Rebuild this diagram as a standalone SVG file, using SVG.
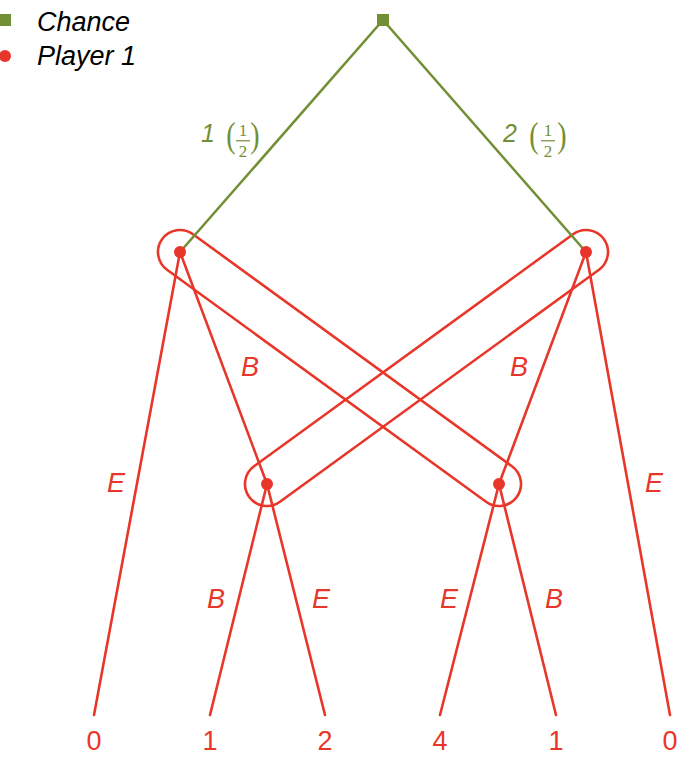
<svg xmlns="http://www.w3.org/2000/svg" width="690" height="771" viewBox="0 0 690 771">
<style>
.red{stroke:#e8372a;stroke-width:2.6;fill:none;stroke-linecap:round}
.grn{stroke:#728f35;stroke-width:2.6;fill:none}
.cap{stroke:#e8372a;stroke-width:2.6;fill:none;stroke-linejoin:round}
.lbl{font-family:"Liberation Sans",Arial,sans-serif;font-size:27px;font-style:italic;fill:#e8372a;text-anchor:middle}
.leaf{font-family:"Liberation Sans",Arial,sans-serif;font-size:27px;fill:#e8372a;text-anchor:middle}
.glbl{font-family:"Liberation Sans",Arial,sans-serif;font-size:25px;font-style:italic;fill:#728f35;text-anchor:middle}
.gser{font-family:"Liberation Serif","Times New Roman",serif;fill:#728f35;text-anchor:middle}
.par{font-size:28px}
.frac{font-size:17px}
.leg{font-family:"Liberation Sans",Arial,sans-serif;font-size:27px;font-style:italic;fill:#000}
.p1{fill:#e8372a}
.ch{fill:#728f35}
</style>
<g id="legend">
<rect class="ch" x="-1" y="14" width="12" height="12"/>
<text class="leg" x="37" y="31">Chance</text>
<circle class="p1" cx="5" cy="56" r="6"/>
<text class="leg" x="37" y="65">Player 1</text>
</g>
<g id="infosets">
<path class="cap" d="M192.98,234.23 L511.98,466.23 A22,22 0 0 1 486.02,501.77 L167.02,269.77 A22,22 0 0 1 192.98,234.23 Z"/>
<path class="cap" d="M573.02,234.23 L254.02,466.23 A22,22 0 0 0 279.98,501.77 L598.98,269.77 A22,22 0 0 0 573.02,234.23 Z"/>
</g>
<g id="connectors">
<line class="grn" x1="383" y1="20" x2="180" y2="252"/>
<line class="grn" x1="383" y1="20" x2="586" y2="252"/>
<line class="red" x1="180" y1="252" x2="94" y2="715"/>
<line class="red" x1="180" y1="252" x2="267" y2="484"/>
<line class="red" x1="586" y1="252" x2="670" y2="715"/>
<line class="red" x1="586" y1="252" x2="499" y2="484"/>
<line class="red" x1="267" y1="484" x2="210" y2="715"/>
<line class="red" x1="267" y1="484" x2="325" y2="715"/>
<line class="red" x1="499" y1="484" x2="440" y2="715"/>
<line class="red" x1="499" y1="484" x2="556" y2="715"/>
</g>
<g id="edge-labels">
<text class="glbl" x="208" y="142">1</text>
<text class="gser par" transform="translate(231,147) scale(1,1.3)">(</text>
<text class="gser frac" x="243" y="136">1</text>
<line x1="236" y1="140.8" x2="250" y2="140.8" stroke="#728f35" stroke-width="1.2"/>
<text class="gser frac" x="243" y="157">2</text>
<text class="gser par" transform="translate(255,147) scale(1,1.3)">)</text>
<text class="glbl" x="510" y="142">2</text>
<text class="gser par" transform="translate(534,147) scale(1,1.3)">(</text>
<text class="gser frac" x="548" y="136">1</text>
<line x1="541" y1="140.8" x2="555" y2="140.8" stroke="#728f35" stroke-width="1.2"/>
<text class="gser frac" x="548" y="157">2</text>
<text class="gser par" transform="translate(562,147) scale(1,1.3)">)</text>
<text class="lbl" x="250" y="376">B</text>
<text class="lbl" x="519" y="376">B</text>
<text class="lbl" x="116" y="492">E</text>
<text class="lbl" x="654" y="492">E</text>
<text class="lbl" x="216" y="608">B</text>
<text class="lbl" x="321" y="608">E</text>
<text class="lbl" x="449" y="608">E</text>
<text class="lbl" x="554" y="608">B</text>
</g>
<g id="chance-root"><rect class="ch" x="377" y="14" width="12" height="12"/></g>
<g id="p1-left"><circle class="p1" cx="180" cy="252" r="6"/></g>
<g id="p1-right"><circle class="p1" cx="586" cy="252" r="6"/></g>
<g id="p1-left-low"><circle class="p1" cx="267" cy="484" r="6"/></g>
<g id="p1-right-low"><circle class="p1" cx="499" cy="484" r="6"/></g>
<g id="leaves">
<text class="leaf" x="94" y="750">0</text>
<text class="leaf" x="210" y="750">1</text>
<text class="leaf" x="325" y="750">2</text>
<text class="leaf" x="440" y="750">4</text>
<text class="leaf" x="556" y="750">1</text>
<text class="leaf" x="670" y="750">0</text>
</g>
</svg>
